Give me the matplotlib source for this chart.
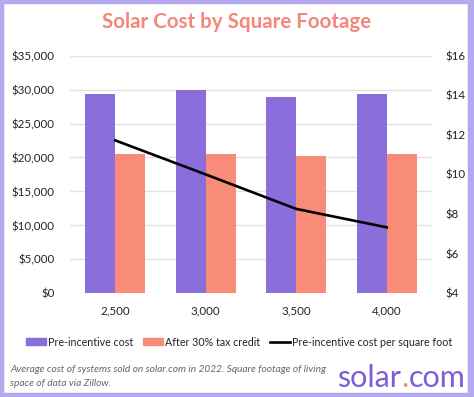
import matplotlib
matplotlib.use("Agg")
import matplotlib.pyplot as plt
from matplotlib.patches import Patch, Rectangle
from matplotlib.lines import Line2D
import numpy as np

categories = ["2,500", "3,000", "3,500", "4,000"]
pre_incentive = [29300, 30000, 28900, 29300]
after_credit = [20500, 20500, 20200, 20500]
per_sqft = [11.72, 10.0, 8.26, 7.33]
left_ticks = [0, 5000, 10000, 15000, 20000, 25000, 30000, 35000]
right_ticks = [4, 6, 8, 10, 12, 14, 16]

PURPLE = "#8a6edb"
SALMON = "#f98c79"
TITLE_C = "#f2877a"
BORDER = "#b6a8ee"
TXT = "#222222"

plt.rcParams["font.family"] = ["Lato", "DejaVu Sans"]

W, H = 474, 397
fig = plt.figure(figsize=(W / 100, H / 100), dpi=100)
fig.patch.set_facecolor("white")

def fx(px):
    return px / W

def fy(py):
    return 1 - py / H

ax = fig.add_axes([fx(70), fy(293.3), fx(432) - fx(70), fy(55.6) - fy(293.3)])
x = np.arange(len(categories))
bw = 0.3315
ax.bar(x - bw / 2, pre_incentive, width=bw, color=PURPLE, zorder=2)
ax.bar(x + bw / 2, after_credit, width=bw, color=SALMON, zorder=2)
ax.set_xlim(-0.5, len(categories) - 0.5)
ax.set_ylim(0, 35000)
ax.set_yticks(left_ticks)
ax.set_yticklabels([f"${v:,.0f}" for v in left_ticks])
ax.set_xticks(x)
ax.set_xticklabels(categories)
ax.yaxis.grid(True, color="#e2e2e2", lw=1)
ax.set_axisbelow(True)
for s in ax.spines.values():
    s.set_visible(False)
ax.tick_params(axis="both", length=0, labelsize=8.3, colors=TXT)
ax.tick_params(axis="y", pad=11)
ax.tick_params(axis="x", pad=8.5)

ax2 = ax.twinx()
ax2.plot(x, per_sqft, color="black", lw=1.9, zorder=3)
ax2.set_ylim(4, 16)
ax2.set_yticks(right_ticks)
ax2.set_yticklabels([f"${v}" for v in right_ticks])
for s in ax2.spines.values():
    s.set_visible(False)
ax2.tick_params(axis="y", length=0, labelsize=8.3, colors=TXT, pad=9.5)

fig.text(0.5, fy(22), "Solar Cost by Square Footage", ha="center", va="center",
         fontsize=14.8, fontweight="bold", color=TITLE_C)

handles = [Patch(color=PURPLE), Patch(color=SALMON), Line2D([], [], color="black", lw=1.9)]
labels = ["Pre-incentive cost", "After 30% tax credit", "Pre-incentive cost per square foot"]
fig.legend(handles, labels, loc="center", bbox_to_anchor=(fx(239), fy(342)), ncol=3,
           frameon=False, fontsize=7.7, handlelength=1.87, handleheight=0.6,
           handletextpad=0.22, columnspacing=0.9, borderpad=0, labelcolor=TXT)

fig.text(fx(10), fy(370), "Average cost of systems sold on solar.com in 2022. Square footage of living",
         ha="left", va="center", fontsize=7.3, style="italic", color="#666666")
fig.text(fx(10), fy(383.3), "space of data via Zillow.",
         ha="left", va="center", fontsize=7.3, style="italic", color="#666666")

LOGO_P = "#7c5fd6"
t1 = fig.text(fx(337), fy(387), "solar", ha="left", va="baseline", fontsize=22, color=LOGO_P)
t2 = fig.text(0, 0, ".", ha="left", va="baseline", fontsize=22, color=SALMON)
t3 = fig.text(0, 0, "com", ha="left", va="baseline", fontsize=22, color=LOGO_P)
fig.canvas.draw()
r = fig.canvas.get_renderer()
b1 = t1.get_window_extent(r)
t2.set_position((b1.x1 / W, fy(387)))
b2 = t2.get_window_extent(r)
t3.set_position((b2.x1 / W, fy(387)))

for (x0, y0, w, h) in [(0, 0, 3, H), (W - 6, 0, 6, H), (0, 0, W, 4), (0, H - 3, W, 3)]:
    fig.patches.append(Rectangle((x0 / W, y0 / H), w / W, h / H, transform=fig.transFigure,
                                 color=BORDER, zorder=10))

fig.savefig("out.png", dpi=100)
